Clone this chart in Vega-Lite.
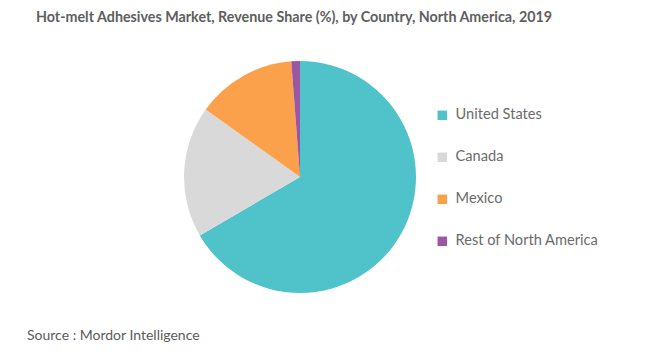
{
  "$schema": "https://vega.github.io/schema/vega-lite/v6.json",
  "autosize": "none",
  "padding": {"left": 184, "top": 61, "right": 469, "bottom": 294},
  "background": "white",
  "title": {
    "text": "Hot-melt Adhesives Market, Revenue Share (%), by Country, North America, 2019",
    "anchor": "start",
    "frame": "group",
    "dx": -148,
    "offset": 36,
    "font": "Lato",
    "fontSize": 14.3,
    "fontWeight": "bold",
    "color": "#5e5e5e"
  },
  "config": {"view": {"stroke": null}},
  "vconcat": [
    {
      "width": 232,
      "height": 232,
      "title": {
        "text": "Source : Mordor Intelligence",
        "orient": "bottom",
        "anchor": "start",
        "frame": "group",
        "dx": -157,
        "offset": 36,
        "font": "Lato",
        "fontSize": 14,
        "fontWeight": "normal",
        "color": "#5b5b5b"
      },
      "data": {
        "values": [
          {"country": "United States", "share": 66.6, "rank": 1},
          {"country": "Canada", "share": 18.3, "rank": 2},
          {"country": "Mexico", "share": 13.9, "rank": 3},
          {"country": "Rest of North America", "share": 1.2, "rank": 4}
        ]
      },
      "mark": {"type": "arc", "outerRadius": 116},
      "encoding": {
        "theta": {"field": "share", "type": "quantitative", "stack": true},
        "order": {"field": "rank", "type": "quantitative"},
        "color": {
          "field": "country",
          "type": "nominal",
          "scale": {
            "domain": ["United States", "Canada", "Mexico", "Rest of North America"],
            "range": ["#4fc3c9", "#d9d9d9", "#fba04b", "#9b57a3"]
          },
          "legend": {
            "title": null,
            "orient": "none",
            "legendX": 251,
            "legendY": 47,
            "symbolType": "square",
            "symbolSize": 90,
            "symbolStrokeWidth": 0,
            "labelFont": "Lato",
            "labelFontSize": 14.6,
            "labelColor": "#6b6b6b",
            "labelOffset": 6,
            "rowPadding": 27
          }
        }
      }
    }
  ]
}
